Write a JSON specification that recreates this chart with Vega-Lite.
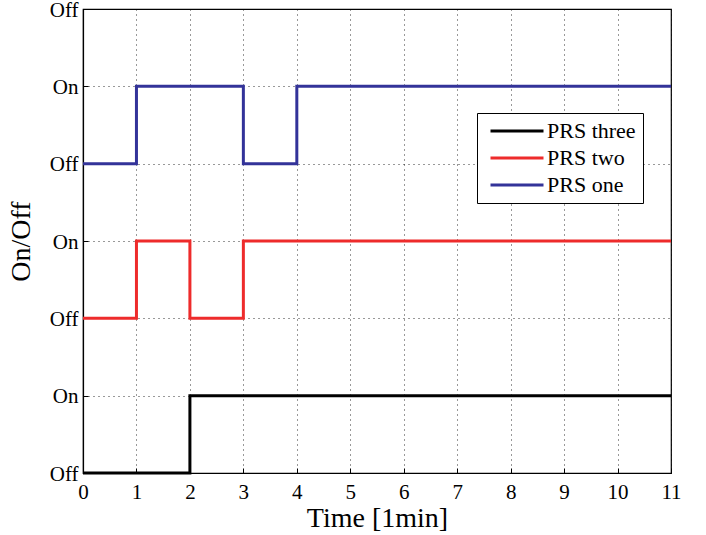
{
  "$schema": "https://vega.github.io/schema/vega-lite/v6.json",
  "autosize": "none",
  "width": 588,
  "height": 464,
  "padding": {"left": 83, "top": 9, "right": 35, "bottom": 62},
  "background": "white",
  "config": {
    "font": "Liberation Serif",
    "view": {"stroke": "black", "strokeWidth": 1.2},
    "axis": {
      "domainColor": "black",
      "domainWidth": 1.2,
      "tickColor": "black",
      "tickSize": -5,
      "gridColor": "black",
      "gridDash": [1, 4],
      "gridOpacity": 0.8,
      "gridWidth": 1,
      "labelColor": "black",
      "titleColor": "black",
      "titleFontWeight": "normal"
    }
  },
  "data": {
    "values": [
      {"t": 0, "state": 4, "series": "PRS one"},
      {"t": 1, "state": 5, "series": "PRS one"},
      {"t": 3, "state": 4, "series": "PRS one"},
      {"t": 4, "state": 5, "series": "PRS one"},
      {"t": 11, "state": 5, "series": "PRS one"},
      {"t": 0, "state": 2, "series": "PRS two"},
      {"t": 1, "state": 3, "series": "PRS two"},
      {"t": 2, "state": 2, "series": "PRS two"},
      {"t": 3, "state": 3, "series": "PRS two"},
      {"t": 11, "state": 3, "series": "PRS two"},
      {"t": 0, "state": 0, "series": "PRS three"},
      {"t": 2, "state": 1, "series": "PRS three"},
      {"t": 11, "state": 1, "series": "PRS three"}
    ]
  },
  "mark": {"type": "line", "interpolate": "step-after", "strokeWidth": 3, "clip": false},
  "encoding": {
    "x": {
      "field": "t",
      "type": "quantitative",
      "scale": {"domain": [0, 11], "nice": false},
      "axis": {
        "title": "Time [1min]",
        "values": [0, 1, 2, 3, 4, 5, 6, 7, 8, 9, 10, 11],
        "format": "d",
        "labelFont": "Liberation Serif",
        "labelFontSize": 21,
        "labelPadding": 13,
        "labelFlush": false,
        "titleFont": "Liberation Serif",
        "titleFontSize": 28,
        "titlePadding": 2
      }
    },
    "y": {
      "field": "state",
      "type": "quantitative",
      "scale": {"domain": [0, 6], "nice": false, "zero": false},
      "axis": {
        "title": "On/Off",
        "values": [0, 1, 2, 3, 4, 5, 6],
        "labelExpr": "datum.value % 2 == 0 ? 'Off' : 'On'",
        "labelFont": "Liberation Serif",
        "labelFontSize": 21,
        "labelPadding": 10,
        "labelOffset": 1,
        "labelFlush": false,
        "titleFont": "Liberation Serif",
        "titleFontSize": 28,
        "titlePadding": 14
      }
    },
    "color": {
      "field": "series",
      "type": "nominal",
      "sort": ["PRS three", "PRS two", "PRS one"],
      "scale": {
        "domain": ["PRS three", "PRS two", "PRS one"],
        "range": ["#000000", "#ee2b2b", "#333399"]
      },
      "legend": {
        "title": null,
        "orient": "none",
        "legendX": 394,
        "legendY": 104,
        "symbolType": "M-5.3,0H5.3",
        "symbolSize": 100,
        "symbolStrokeWidth": 3,
        "symbolOffset": 22,
        "labelFont": "Liberation Serif",
        "labelFontSize": 22,
        "labelColor": "black",
        "labelOffset": 19,
        "labelExpr": "datum.label + '\u00a0\u00a0'",
        "rowPadding": 5,
        "padding": 7,
        "strokeColor": "black",
        "fillColor": "white"
      }
    }
  }
}
